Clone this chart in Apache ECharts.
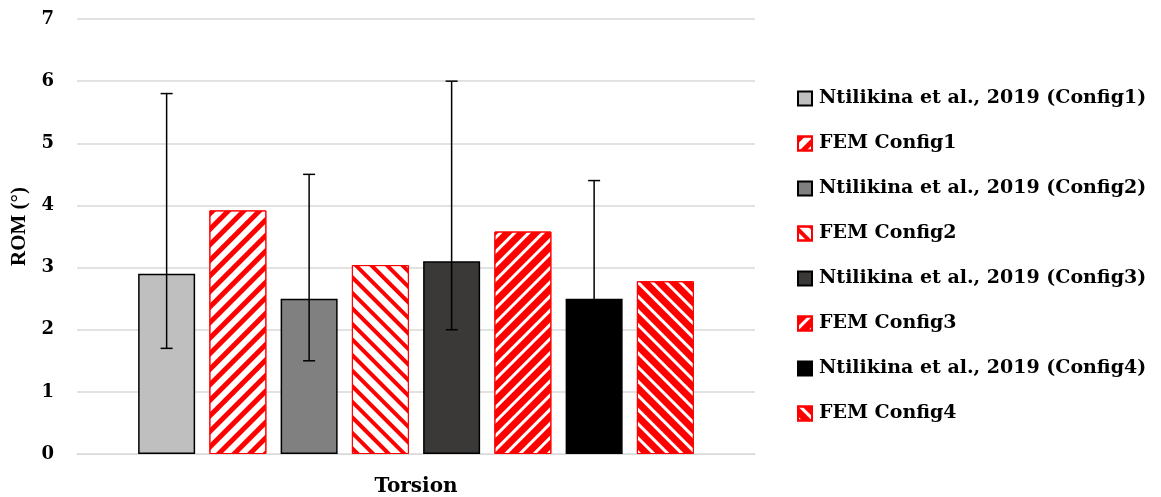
<!DOCTYPE html>
<html>
<head>
<meta charset="utf-8">
<script src="https://cdn.jsdelivr.net/npm/echarts@6/dist/echarts.min.js"></script>
<style>html,body{margin:0;padding:0;background:#fff}#c{width:1161px;height:497px}</style>
</head>
<body>
<div id="c"></div>
<script>
const categories = ['Torsion'];
const seriesNames = [
  'Ntilikina et al., 2019 (Config1)', 'FEM Config1',
  'Ntilikina et al., 2019 (Config2)', 'FEM Config2',
  'Ntilikina et al., 2019 (Config3)', 'FEM Config3',
  'Ntilikina et al., 2019 (Config4)', 'FEM Config4'
];
const values = [2.9, 3.92, 2.5, 3.04, 3.1, 3.58, 2.5, 2.78];
// error bars: [seriesIndex, low, high]
const errorBars = [[0, 1.7, 5.8], [2, 1.5, 4.5], [4, 2.0, 6.0], [6, 0.6, 4.4]];
const yTicks = [0, 1, 2, 3, 4, 5, 6, 7];

const FONT = '"DejaVu Serif", "Liberation Serif", serif';
const FONT2 = '"Liberation Serif", "DejaVu Serif", serif';
const BW = 57, GAP = 0.25;
const grays = ['#BFBFBF', '#808080', '#3B3838', '#000000'];
const decals = [
  {dashArrayY: [4.2, 5.6], rotation: -Math.PI / 4},
  {dashArrayY: [3.4, 6.4], rotation: Math.PI / 4},
  {dashArrayY: [6.8, 3], rotation: -Math.PI / 4},
  {dashArrayY: [6.8, 3], rotation: Math.PI / 4}
];

const series = seriesNames.map((name, i) => {
  const k = Math.floor(i / 2);
  const isFem = i % 2 === 1;
  return {
    name, type: 'bar', barWidth: BW, barGap: (GAP * 100) + '%',
    data: [values[i]],
    itemStyle: isFem ? {
      color: '#ffffff', borderColor: '#FF0000', borderWidth: 1,
      decal: Object.assign({symbol: 'rect', symbolSize: 1, dashArrayX: [1, 0], color: '#FF0000'}, decals[k])
    } : {color: grays[k], borderColor: '#000000', borderWidth: 1.5},
    emphasis: {disabled: true}
  };
});

series.push({
  type: 'custom', name: 'err', z: 10,
  data: errorBars,
  renderItem: function (params, api) {
    const idx = api.value(0);
    const lo = api.coord([0, api.value(1)]);
    const hi = api.coord([0, api.value(2)]);
    const n = seriesNames.length;
    const step = BW * (1 + GAP);
    const x = lo[0] + (idx - (n - 1) / 2) * step;
    const cap = 6;
    const st = {stroke: '#000', lineWidth: 1.5, fill: null};
    return {type: 'group', children: [
      {type: 'line', shape: {x1: x, y1: lo[1], x2: x, y2: hi[1]}, style: st},
      {type: 'line', shape: {x1: x - cap, y1: lo[1], x2: x + cap, y2: lo[1]}, style: st},
      {type: 'line', shape: {x1: x - cap, y1: hi[1], x2: x + cap, y2: hi[1]}, style: st}
    ]};
  },
  silent: true
});

const chart = echarts.init(document.getElementById('c'), null, {renderer: 'canvas'});
chart.setOption({
  animation: false,
  backgroundColor: '#fff',
  grid: {left: 77, top: 19, width: 678, height: 436, containLabel: false},
  legend: {
    orient: 'vertical', left: 792, top: 83,
    data: seriesNames.map(n => ({name: n, icon: 'rect'})),
    itemWidth: 14, itemHeight: 14, itemGap: 24,
    textStyle: {fontFamily: FONT, fontWeight: 'bold', fontSize: 19, color: '#000', lineHeight: 21, padding: [0, 0, 0, 2]},
    selectedMode: false
  },
  xAxis: {
    type: 'category', data: categories,
    axisLine: {show: true, lineStyle: {color: '#D9D9D9', width: 1}},
    axisTick: {show: false},
    axisLabel: {fontFamily: FONT, fontWeight: 'bold', fontSize: 20, color: '#000', margin: 23}
  },
  yAxis: {
    type: 'value', min: yTicks[0], max: yTicks[yTicks.length - 1], interval: 1,
    name: 'ROM (°)', nameLocation: 'middle', nameGap: 45,
    nameTextStyle: {fontFamily: FONT2, fontWeight: 'bold', fontSize: 21, color: '#000', padding: [0, 0, 0, 20]},
    axisLine: {show: false}, axisTick: {show: false},
    axisLabel: {fontFamily: FONT, fontWeight: 'bold', fontSize: 18, color: '#000', margin: 23},
    splitLine: {lineStyle: {color: '#D9D9D9', width: 1.5}}
  },
  series
});
</script>
</body>
</html>
